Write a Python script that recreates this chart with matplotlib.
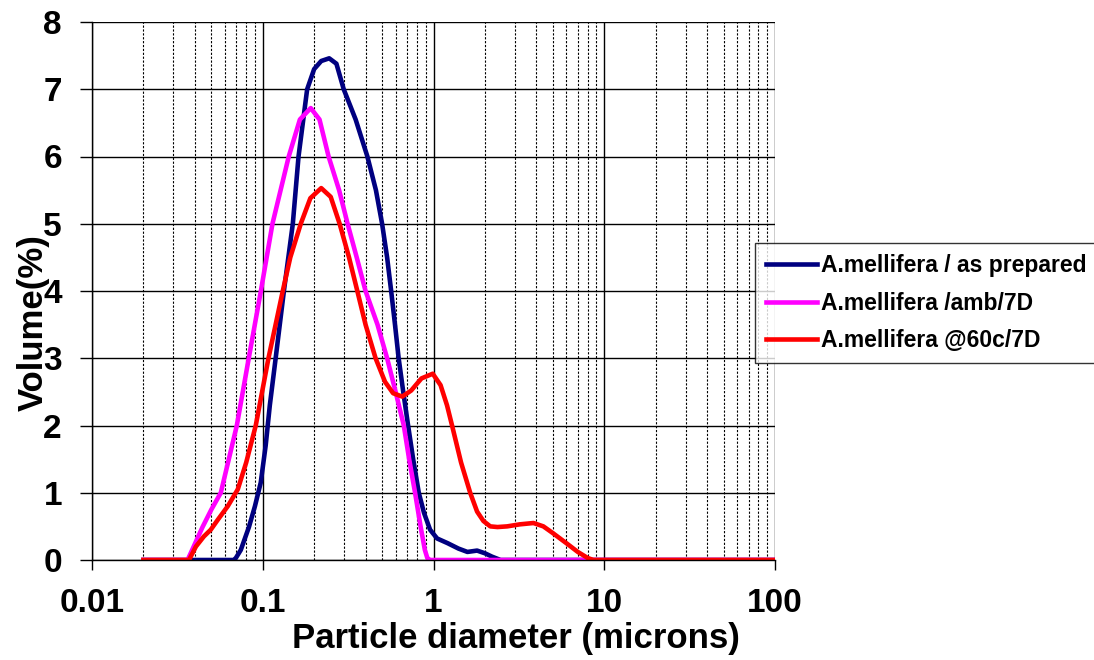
import numpy as np
import matplotlib
matplotlib.use("Agg")
import matplotlib.pyplot as plt
from matplotlib.ticker import LogLocator, FixedLocator

plt.rcParams["font.family"] = ["Liberation Sans", "DejaVu Sans"]
plt.rcParams["font.weight"] = "bold"

# values
x_prepared = [0.02, 0.05, 0.0676, 0.0696, 0.0744, 0.083, 0.09, 0.0973, 0.104, 0.11, 0.119,
              0.133, 0.15, 0.162, 0.182, 0.2, 0.22, 0.245, 0.27, 0.298, 0.35, 0.41,
              0.46, 0.50, 0.535, 0.565, 0.595, 0.625, 0.665, 0.71, 0.76, 0.82, 0.88,
              0.955, 1.05, 1.21, 1.4, 1.58, 1.8, 2.0, 2.2, 2.47, 100]
y_prepared = [0.0, 0.0, 0.0, 0.03, 0.15, 0.49, 0.8, 1.15, 1.7, 2.3, 3.0,
              4.0, 5.0, 6.0, 7.0, 7.3, 7.42, 7.46, 7.38, 7.0, 6.55, 6.0,
              5.5, 5.0, 4.5, 4.0, 3.5, 3.0, 2.5, 2.0, 1.5, 1.0, 0.7,
              0.45, 0.32, 0.25, 0.17, 0.12, 0.14, 0.1, 0.05, 0.0, 0.0]

x_amb = [0.02, 0.0363, 0.0444, 0.05, 0.0568, 0.0705, 0.0828, 0.0975, 0.114, 0.142,
         0.165, 0.191, 0.215, 0.243, 0.28, 0.314, 0.355, 0.40, 0.47, 0.535, 0.60,
         0.67, 0.72, 0.78, 0.84, 0.89, 0.92, 0.955, 100]
y_amb = [0.0, 0.0, 0.49, 0.75, 1.0, 2.0, 3.0, 4.0, 5.0, 6.0,
         6.55, 6.72, 6.55, 6.0, 5.5, 5.0, 4.5, 4.0, 3.5, 3.0, 2.5,
         2.0, 1.5, 1.0, 0.5, 0.15, 0.03, 0.0, 0.0]

x_60c = [0.02, 0.037, 0.0406, 0.0452, 0.0496, 0.0546, 0.0624, 0.0714, 0.08, 0.091, 0.108,
         0.131, 0.145, 0.167, 0.19, 0.22, 0.25, 0.282, 0.32, 0.358, 0.40, 0.458,
         0.52, 0.58, 0.656, 0.74, 0.85, 0.99, 1.1, 1.2, 1.29, 1.45, 1.64, 1.8,
         1.96, 2.15, 2.37, 2.7, 3.2, 3.85, 4.4, 5.0, 6.0, 7.0, 8.0, 8.63, 100]
y_60c = [0.0, 0.0, 0.2, 0.35, 0.45, 0.6, 0.8, 1.05, 1.45, 2.0, 3.0,
         4.0, 4.5, 5.0, 5.38, 5.53, 5.4, 5.0, 4.5, 4.0, 3.5, 3.0,
         2.65, 2.48, 2.43, 2.52, 2.7, 2.77, 2.6, 2.3, 1.98, 1.45, 1.0, 0.72,
         0.58, 0.5, 0.49, 0.5, 0.53, 0.55, 0.5, 0.4, 0.25, 0.12, 0.03, 0.0, 0.0]

labels = ["A.mellifera / as prepared", "A.mellifera /amb/7D", "A.mellifera @60c/7D"]
colors = ["#000080", "#ff00ff", "#ff0000"]
xtick_vals = [0.01, 0.1, 1, 10, 100]
xtick_text = ["0.01", "0.1", "1", "10", "100"]

fig = plt.figure(figsize=(10.94, 6.6), dpi=100)
ax = fig.add_axes([92 / 1094, 100 / 660, 683 / 1094, 538 / 660])

for xs, ys, lab, c in zip([x_prepared, x_amb, x_60c], [y_prepared, y_amb, y_60c], labels, colors):
    ax.plot(xs, ys, color=c, lw=3.3, label=lab, solid_joinstyle="round")

ax.set_xscale("log")
ax.set_xlim(0.01, 100)
ax.set_ylim(0, 8)
ax.xaxis.set_major_locator(FixedLocator(xtick_vals))
ax.xaxis.set_minor_locator(LogLocator(base=10, subs=np.arange(2, 10)))
ax.set_xticklabels(xtick_text)
ax.set_yticks(range(0, 9))

ax.grid(which="major", color="black", lw=1.0)
ax.grid(which="minor", axis="x", color="black", lw=0.8, ls=(0, (2, 1.5)))
ax.set_axisbelow(True)

for s in ["top", "right"]:
    ax.spines[s].set_visible(False)
for s in ["left", "bottom"]:
    ax.spines[s].set_color("black")
    ax.spines[s].set_linewidth(1.0)

ax.tick_params(axis="x", which="major", direction="out", length=7, width=1.0,
               labelsize=24, pad=13)
ax.tick_params(axis="y", which="major", direction="out", length=8.6, width=1.0,
               labelsize=24, pad=13)
ax.tick_params(axis="x", which="minor", length=0)
for t in ax.get_xticklabels() + ax.get_yticklabels():
    t.set_fontweight("bold")

ax.set_xlabel("Particle diameter (microns)", fontsize=25, fontweight="bold")
ax.xaxis.set_label_coords(0.621, -0.115)
ax.set_ylabel("Volume(%)", fontsize=25, fontweight="bold")
ax.yaxis.set_label_coords(-0.062, 0.442)

leg = fig.legend(loc="upper left", bbox_to_anchor=(755 / 1094, 1 - 243 / 660),
                 fontsize=16.5, frameon=True, fancybox=False, handlelength=2.2,
                 handletextpad=0.2, borderpad=0.5, labelspacing=0.62, borderaxespad=0)
leg.get_frame().set_edgecolor("black")
leg.get_frame().set_linewidth(1.0)
for t in leg.get_texts():
    t.set_fontweight("bold")

fig.savefig("out.png", dpi=100)
